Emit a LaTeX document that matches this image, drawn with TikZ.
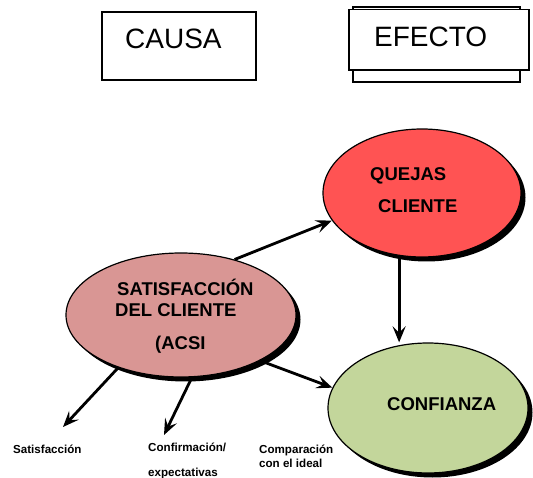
\documentclass[tikz,border=0pt]{standalone}
\usepackage{fontspec}
\setmainfont{Liberation Sans}
\usetikzlibrary{shapes.geometric,arrows.meta,backgrounds}

\definecolor{satcol}{HTML}{D99694}
\definecolor{quejascol}{HTML}{FF5353}
\definecolor{confcol}{HTML}{C3D69B}

\begin{document}
\begin{tikzpicture}[x=1pt, y=-1pt,
    oval/.style={ellipse, draw, line width=1.2pt, inner sep=0pt},
    shadow/.style={fill=black},
    big/.style={font=\fontsize{18.5}{20}\selectfont\bfseries, anchor=base west, inner sep=0pt},
    small/.style={font=\fontsize{11.6}{13}\selectfont\bfseries, anchor=base west, inner sep=0pt},
    title/.style={font=\fontsize{28}{30}\selectfont, anchor=base west, inner sep=0pt},
    arrow/.style={-{Stealth[length=16pt, width=13pt, inset=6.5pt]}, line width=2.8pt}
]
    \useasboundingbox (0,0) rectangle (533,478);

    % Title boxes
    \node[draw, line width=2pt, minimum width=154pt, minimum height=68pt, inner sep=0pt] (causa) at (179,46) {};
    \node[draw, line width=2.4pt, minimum width=167pt, minimum height=75pt, inner sep=0pt] (efectoback) at (436.5,44.5) {};
    \node[draw, fill=white, line width=1.8pt, minimum width=180pt, minimum height=60.5pt, inner sep=0pt] (efecto) at (439,39.75) {};
    \node[title] (causatxt) at (125,49) {CAUSA};
    \node[title] (efectotxt) at (374,47) {EFECTO};

    % Shadows
    \fill[shadow] (426.5,197.5) ellipse [x radius=99, y radius=64];
    \fill[shadow] (185.5,319.5) ellipse [x radius=115, y radius=62];
    \fill[shadow] (432.5,412.5) ellipse [x radius=100, y radius=65];

    % Ellipses
    \node[oval, fill=quejascol, minimum width=198pt, minimum height=128pt] (quejas) at (422,193) {};
    \node[oval, fill=satcol, minimum width=230pt, minimum height=124pt] (sat) at (181,315) {};
    \node[oval, fill=confcol, minimum width=200pt, minimum height=130pt] (conf) at (428,408) {};

    % Texts in the ellipses
    \node[big] (quejastxt) at (370,181) {QUEJAS};
    \node[big] (clientetxt) at (378,213) {CLIENTE};
    \node[big] (sattxt) at (117,296) {SATISFACCIÓN};
    \node[big] (deltxt) at (115,317) {DEL CLIENTE};
    \node[big] (acsitxt) at (155,350) {(ACSI};
    \node[big] (conftxt) at (387,410) {CONFIANZA};

    % Labels below
    \node[small] (satlbl) at (13,453) {Satisfacción};
    \node[small] (conflbl) at (148,451) {Confirmación/};
    \node[small] (explbl) at (148,476) {expectativas};
    \node[small] (complbl) at (259,453) {Comparación};
    \node[small] (ideallbl) at (259,467) {con el ideal};

    \coordinate (end1) at (63,427);
    \coordinate (end2) at (164,435);

    % Arrows (behind the ellipses)
    \begin{pgfonlayer}{background}
    \draw[arrow] (sat.46) -- (quejas.197);
    \draw[arrow] (quejas.250) -- (quejas.250 |- conf.north);
    \draw[arrow] (sat.-30) -- (conf.168);
    \draw[arrow] (sat.220) -- (end1);
    \draw[arrow] (sat.-80) -- (end2);
    \end{pgfonlayer}
\end{tikzpicture}
\end{document}
